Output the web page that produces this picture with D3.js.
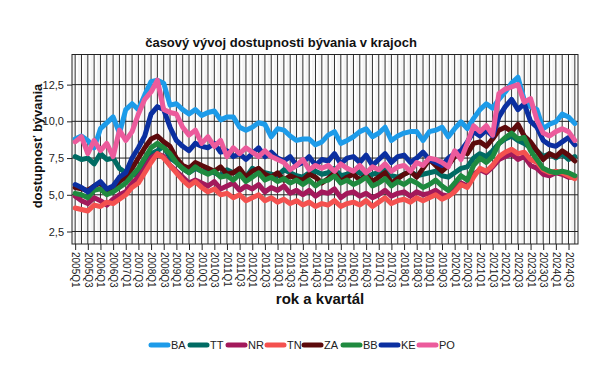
<!DOCTYPE html>
<html><head><meta charset="utf-8">
<script src="https://cdn.jsdelivr.net/npm/d3@7"></script>
<style>body{margin:0;background:#fff}svg{display:block}text{font-family:"Liberation Sans",Arial,sans-serif}</style>
</head><body><svg id="c" width="605" height="387"></svg>
<script>
const years = d3.range(2005, 2025);
const quarters = years.flatMap(y => [1,2,3,4].map(q => y + "Q" + q));
const tickLabels = quarters.filter((d,i) => i % 2 === 0);
const regions = ["BA","TT","NR","TN","ZA","BB","KE","PO"];
const colors = ["#1d9be9","#006b63","#a3195b","#f4514f","#5c0a0c","#1f8a3f","#0b2fa0","#ec5b9c"];
const yTicks = [2.5, 5.0, 7.5, 10.0, 12.5];

const BA = [8.8,9.0,8.7,8.2, 9.5,9.9,10.3,9.2, 10.8,11.2,10.8,11.8, 12.7,12.8,12.6,11.1, 11.2,10.8,10.5,10.8, 10.4,10.6,10.7,10.1, 10.3,10.3,9.6,9.4, 9.6,9.9,9.8,8.95, 9.5,9.4,9.0,8.7, 8.8,8.8,8.4,8.6, 9.06,9.3,8.5,8.7, 8.95,9.3,9.5,8.95, 9.2,9.6,8.7,9.0, 9.2,9.3,9.3,8.7, 9.3,9.4,9.6,8.95, 9.5,9.97,9.5,10.2, 10.8,11.2,10.9,11.5, 12.0,12.6,13.0,11.45, 11.0,10.8,9.5,9.8, 9.97,10.5,10.3,9.86];
const TT = [7.6,7.4,7.5,7.1, 7.8,7.4,7.5,6.8, 6.5,6.4,6.3,7.2, 7.8,8.0,8.3,7.5, 7.2,6.8,6.5,6.8, 6.6,6.7,6.5,6.3, 6.7,6.5,6.6,6.2, 6.8,6.6,6.5,6.4, 6.3,6.7,6.5,6.3, 6.2,6.5,6.6,6.4, 6.5,6.8,6.3,6.4, 6.6,6.5,6.2,6.4, 6.5,6.8,6.3,6.2, 6.4,6.6,6.3,6.4, 6.5,6.6,6.3,6.2, 6.5,6.8,6.9,7.5, 7.8,7.6,8.0,8.5, 8.8,9.0,8.7,8.5, 8.2,8.0,7.6,7.8, 7.5,7.8,7.4,7.6];
const NR = [4.9,4.6,4.4,4.8, 4.6,4.3,4.7,5.0, 5.2,5.8,6.2,6.8, 7.5,7.8,7.6,7.0, 6.6,6.2,5.8,6.0, 5.8,5.6,5.9,5.4, 5.6,5.8,5.3,5.6, 5.4,5.7,5.2,5.5, 5.3,5.6,5.1,5.3, 5.0,5.3,4.9,5.2, 5.1,5.4,4.8,5.1, 5.2,4.9,5.1,4.8, 5.0,5.3,4.9,5.1, 5.2,4.9,5.2,5.0, 5.1,5.3,5.0,4.9, 5.4,5.8,5.6,6.4, 6.7,6.5,6.9,7.4, 7.6,7.8,7.4,7.6, 7.0,6.8,6.4,6.3, 6.5,6.4,6.2,6.2];
const TN = [4.1,4.0,3.9,4.3, 4.2,4.5,4.4,4.7, 5.0,5.5,5.8,6.5, 7.2,7.8,7.5,7.0, 6.5,6.0,5.6,5.9, 5.5,5.2,5.4,5.0, 5.1,4.8,5.0,4.6, 4.8,5.0,4.6,4.8, 4.5,4.7,4.4,4.6, 4.3,4.5,4.2,4.4, 4.3,4.6,4.2,4.4, 4.5,4.3,4.6,4.2, 4.5,4.8,4.4,4.6, 4.7,4.5,4.8,4.6, 4.8,5.0,4.7,4.9, 5.2,5.7,5.5,6.2, 6.8,6.6,7.0,7.6, 7.9,8.1,7.8,7.9, 7.4,7.2,6.7,6.5, 6.6,6.5,6.3,6.1];
const ZA = [5.5,5.4,5.3,5.6, 5.8,5.3,5.5,5.9, 6.2,6.8,7.5,8.2, 8.8,9.0,8.6,8.3, 7.5,7.0,6.8,7.2, 7.0,6.8,6.6,6.9, 6.4,6.5,6.8,6.2, 6.6,6.8,6.4,6.2, 6.5,6.0,6.3,6.1, 6.0,6.4,6.2,5.8, 6.1,6.5,5.9,6.2, 6.4,6.0,6.3,5.9, 6.2,6.5,5.8,6.1, 6.4,6.6,6.2,6.8, 7.4,7.0,6.6,7.0, 7.6,8.0,7.8,8.5, 8.6,8.3,8.8,9.4, 9.6,9.3,9.8,9.0, 8.6,8.0,7.4,7.8, 7.6,8.0,7.7,7.3];
const BB = [5.1,5.0,4.8,5.3, 5.4,5.0,5.2,5.5, 5.8,6.3,6.8,7.5, 8.2,8.5,8.2,7.8, 7.2,6.8,6.5,6.9, 6.6,6.4,6.6,6.2, 6.3,6.0,6.4,5.9, 6.2,6.5,6.0,6.2, 5.9,6.1,5.8,6.0, 5.7,6.0,5.6,5.9, 6.0,6.3,5.8,6.0, 5.7,5.9,6.2,5.6, 5.8,6.1,5.6,5.9, 5.7,6.0,5.8,5.5, 5.7,6.0,5.6,5.3, 5.8,6.3,6.0,7.0, 7.5,7.2,7.6,8.5, 8.9,9.2,8.8,8.9, 8.0,7.4,6.8,6.6, 6.5,6.6,6.5,6.3];
const KE = [5.7,5.5,5.2,5.6, 5.9,5.4,5.6,6.2, 6.5,7.5,8.2,9.0, 10.5,11.0,10.8,9.6, 8.7,8.3,8.0,8.5, 8.3,8.2,8.5,7.9, 8.0,7.6,7.8,7.4, 7.8,8.2,7.6,7.9, 7.5,7.3,7.6,7.0, 7.2,7.6,7.0,7.4, 7.3,7.8,7.1,7.5, 7.6,7.2,7.7,7.0, 7.4,7.8,7.2,7.6, 7.7,7.2,7.5,7.9, 7.4,7.2,7.0,7.5, 7.8,8.0,8.6,9.3, 9.0,9.4,9.0,10.3, 11.0,11.5,10.8,11.2, 10.0,9.6,8.7,8.4, 8.3,8.6,8.9,8.4];
const PO = [8.6,8.95,7.8,8.7, 8.0,8.5,7.6,9.4, 8.7,9.3,10.5,11.5, 12.0,12.8,10.8,10.6, 10.5,9.6,9.06,9.4, 8.5,8.95,8.3,8.7, 7.6,8.2,7.8,8.2, 7.9,7.6,8.0,7.6, 7.4,7.2,6.7,7.0, 7.4,6.7,7.0,6.8, 7.0,6.6,7.1,6.8, 6.6,7.0,6.5,6.9, 6.7,7.1,6.6,6.9, 7.0,6.6,7.2,7.0, 7.5,7.4,7.2,6.9, 8.0,7.4,8.5,9.7, 9.3,9.7,9.06,11.9, 12.2,12.35,12.5,11.3, 11.55,10.1,9.2,9.0, 9.3,9.5,9.3,8.7];
const seriesValues = [BA,TT,NR,TN,ZA,BB,KE,PO];

const svg = d3.select("#c");
const L = 72, R = 578, T = 54.5, B = 244;
const x = d3.scalePoint().domain(quarters).range([L, R]).padding(0.5);
const y = d3.scaleLinear().domain([1.65, 14.55]).range([B, T]);

svg.append("rect").attr("x", L).attr("y", T).attr("width", R-L).attr("height", B-T).attr("fill", "#f4f4f4");
const vg = svg.append("g");
quarters.forEach(q => {
  vg.append("line").attr("x1", x(q)+1.5).attr("x2", x(q)+1.5).attr("y1", T).attr("y2", B).attr("stroke", "#fff").attr("stroke-width", 2.5);
  vg.append("line").attr("x1", x(q)).attr("x2", x(q)).attr("y1", T).attr("y2", B).attr("stroke", "#333").attr("stroke-width", 1);
});
yTicks.forEach(v => {
  svg.append("line").attr("x1", L).attr("x2", R).attr("y1", y(v)).attr("y2", y(v)).attr("stroke", "#222").attr("stroke-width", 1);
});

const yAxis = d3.axisLeft(y).tickValues(yTicks).tickSize(5).tickFormat(d => d3.format(".1f")(d).replace(".", ","));
const gy = svg.append("g").attr("transform", `translate(${L},0)`).call(yAxis);
gy.select(".domain").remove();
gy.selectAll("text").attr("font-size", 11).attr("fill", "#222").attr("font-family", "Liberation Sans, Arial, sans-serif");
gy.selectAll("line").attr("stroke", "#222");

const xAxis = d3.axisBottom(x).tickValues(tickLabels).tickSize(6);
const gx = svg.append("g").attr("transform", `translate(0,${B})`).call(xAxis);
gx.select(".domain").remove();
gx.selectAll("line").attr("stroke", "#222");
gx.selectAll("text").attr("font-size", 10).attr("fill", "#222").attr("font-family", "Liberation Sans, Arial, sans-serif")
  .attr("transform", "rotate(90)").attr("text-anchor", "start").attr("x", 8).attr("y", 0).attr("dy", "0.35em");

svg.append("rect").attr("x", L).attr("y", T).attr("width", R-L).attr("height", B-T).attr("fill", "none").attr("stroke", "#222").attr("stroke-width", 1);

const line = d3.line().x((d,i) => x(quarters[i])).y(d => y(d));
regions.forEach((r, k) => {
  svg.append("path").datum(seriesValues[k]).attr("d", line).attr("fill", "none")
    .attr("stroke", colors[k]).attr("stroke-width", 5).attr("stroke-linejoin", "round").attr("stroke-linecap", "round");
});

svg.append("text").attr("x", 281).attr("y", 47).attr("text-anchor", "middle").attr("font-size", 13).attr("font-weight", "bold").attr("fill", "#111")
  .text("časový vývoj dostupnosti bývania v krajoch");
svg.append("text").attr("transform", "translate(42,146) rotate(-90)").attr("text-anchor", "middle").attr("font-size", 13).attr("font-weight", "bold").attr("fill", "#111")
  .text("dostupnosť bývania");
svg.append("text").attr("x", 320).attr("y", 304).attr("text-anchor", "middle").attr("font-size", 15).attr("font-weight", "bold").attr("fill", "#111")
  .text("rok a kvartál");

const legX = [149, 188, 226, 265, 302, 341, 379, 417];
const lg = svg.append("g");
regions.forEach((r, k) => {
  lg.append("line").attr("x1", legX[k]+2).attr("x2", legX[k]+19).attr("y1", 345).attr("y2", 345)
    .attr("stroke", colors[k]).attr("stroke-width", 5).attr("stroke-linecap", "round");
  lg.append("text").attr("x", legX[k]+22).attr("y", 349).attr("font-size", 11).attr("fill", "#222").text(r);
});
</script></body></html>
